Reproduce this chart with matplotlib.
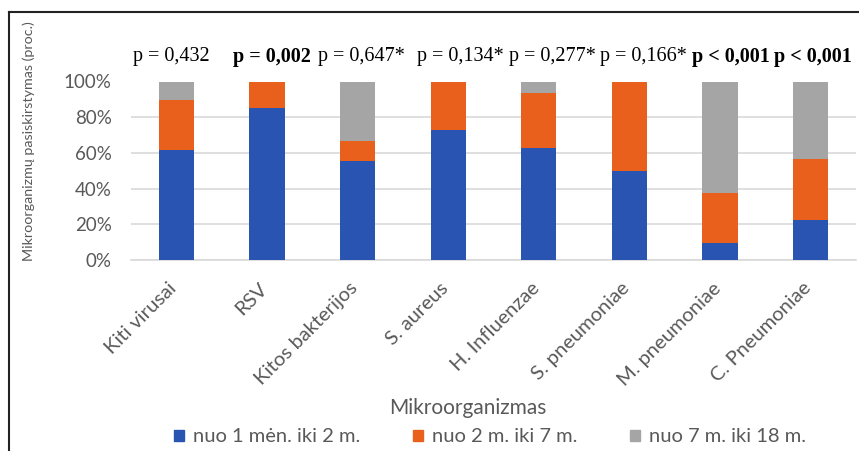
import numpy as np
import matplotlib
matplotlib.use("Agg")
import matplotlib.pyplot as plt
import matplotlib.transforms as mtransforms
from matplotlib.lines import Line2D
from matplotlib.patches import Patch

# data (percent per group)
categories = ["Kiti virusai", "RSV", "Kitos bakterijos", "S. aureus",
              "H. Influenzae", "S. pneumoniae", "M. pneumoniae", "C. Pneumoniae"]
age_1m_2y = [61.7, 85.0, 55.6, 72.7, 62.5, 50.0, 9.4, 22.2]
age_2y_7y = [28.0, 15.0, 11.1, 27.3, 31.3, 50.0, 28.1, 34.4]
age_7y_18y = [10.3, 0.0, 33.3, 0.0, 6.2, 0.0, 62.5, 43.4]
p_values = ["p = 0,432", "p = 0,002", "p = 0,647*", "p = 0,134*",
            "p = 0,277*", "p = 0,166*", "p < 0,001", "p < 0,001"]
p_bold = [False, True, False, False, False, False, True, True]
series_names = ["nuo 1 mėn. iki 2 m.", "nuo 2 m. iki 7 m.", "nuo 7 m. iki 18 m."]

# small horizontal nudges (in category units) for the p-value labels
p_nudge = [-0.05, 0.05, 0.04, 0.13, 0.15, 0.16, 0.12, 0.02]

blue = "#2a54b2"
orange = "#e8601c"
grey = "#a5a5a5"
txt = "#595959"

plt.rcParams['font.family'] = ['Lato', 'DejaVu Sans']

fig = plt.figure(figsize=(8.59, 4.51), dpi=100)
W, H = 859, 451
ax = fig.add_axes([131 / W, 1 - 260 / H, (856 - 131) / W, (260 - 81.5) / H])

x = np.arange(len(categories))
bw = 0.39
b1 = np.array(age_1m_2y)
b2 = np.array(age_2y_7y)
b3 = np.array(age_7y_18y)
ax.bar(x, b1, bw, color=blue, zorder=3)
ax.bar(x, b2, bw, bottom=b1, color=orange, zorder=3)
ax.bar(x, b3, bw, bottom=b1 + b2, color=grey, zorder=3)

ax.set_xlim(-0.5, len(categories) - 0.5)
ax.set_ylim(0, 100)
ax.set_yticks(np.arange(0, 101, 20))
ax.set_yticklabels([f"{v}%" for v in range(0, 101, 20)])
ax.yaxis.grid(True, color="#d9d9d9", linewidth=1.2, zorder=0)
for s in ["top", "right", "left"]:
    ax.spines[s].set_visible(False)
ax.spines["bottom"].set_color("#d9d9d9")
ax.spines["bottom"].set_linewidth(1.2)
ax.tick_params(axis="both", length=0, labelcolor=txt)
ax.tick_params(axis="y", pad=14, labelsize=13.5)
ax.set_xticks(x)
ax.set_xticklabels(categories, rotation=45, ha="right", rotation_mode="anchor")
ax.tick_params(axis="x", pad=14, labelsize=14.5)
shift = mtransforms.ScaledTranslation(-6 / 72, 0, fig.dpi_scale_trans)
for lab in ax.get_xticklabels():
    lab.set_transform(lab.get_transform() + shift)

for i, (p, b) in enumerate(zip(p_values, p_bold)):
    ax.text(x[i] + p_nudge[i], 114, p, ha="center", va="center", fontsize=14.5,
            family="Liberation Serif", fontweight="bold" if b else "normal",
            color="black", clip_on=False)

fig.text(29 / W, 1 - 141 / H, "Mikroorganizmų pasiskirstymas (proc.)",
         rotation=90, ha="center", va="center", fontsize=10.3, color=txt)
fig.text(468 / W, 1 - 408 / H, "Mikroorganizmas", ha="center", va="center",
         fontsize=15, color=txt)

handles = [Patch(color=c) for c in (blue, orange, grey)]
leg = fig.legend(handles, series_names, ncol=3, loc="center",
                 bbox_to_anchor=(490 / W, 1 - 437 / H), frameon=False,
                 fontsize=14.5, handlelength=0.5, handleheight=0.5,
                 handletextpad=0.45, columnspacing=2.6)
for t in leg.get_texts():
    t.set_color(txt)

# outer frame (left and top edges visible in the crop)
fig.add_artist(Line2D([9 / W, 9 / W], [0, 1 - 12 / H], color="#222222", lw=1.5))
fig.add_artist(Line2D([9 / W, 1], [1 - 12 / H, 1 - 12 / H], color="#222222", lw=1.5))

fig.savefig("out.png", dpi=100)
